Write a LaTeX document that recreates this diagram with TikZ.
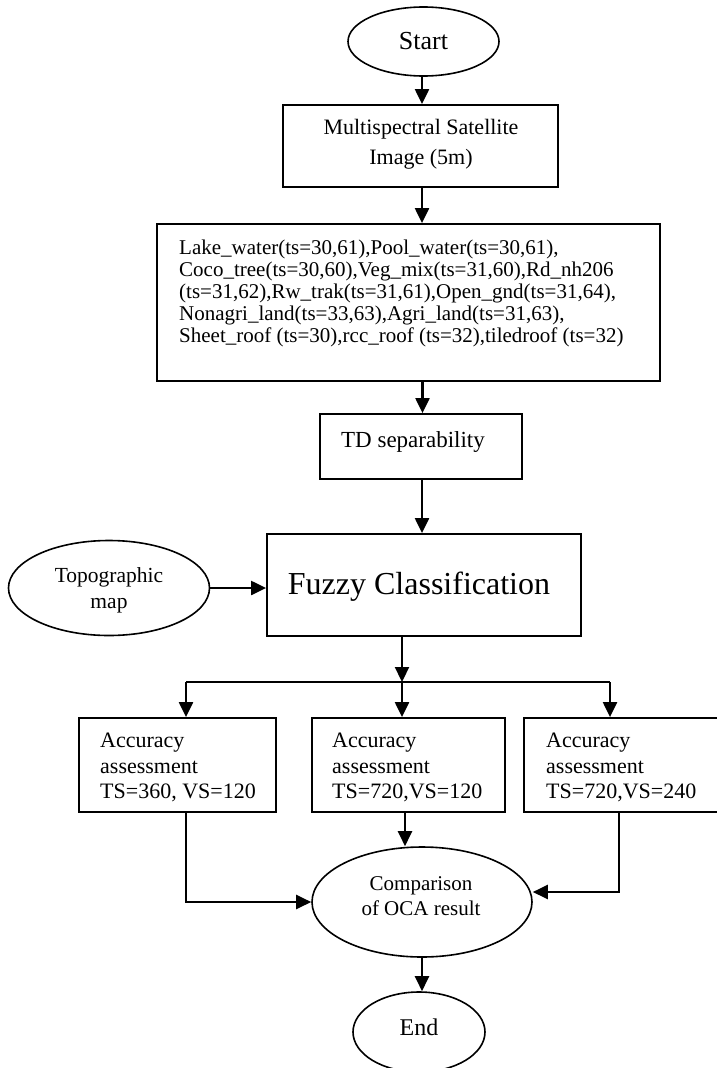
\documentclass[tikz,border=0pt]{standalone}
\usepackage{fontspec}
\setmainfont{Liberation Serif}
\usetikzlibrary{arrows.meta,shapes.geometric}
\begin{document}
\begin{tikzpicture}[x=1pt,y=-1pt,
  box/.style={draw,line width=1.8pt,rectangle,inner sep=0pt},
  oval/.style={draw,line width=1.6pt,ellipse,inner sep=0pt},
  txt/.style={inner sep=0pt},
  arr/.style={line width=2.2pt,-{Triangle[length=15pt,width=14pt]}},
  ln/.style={line width=2.2pt}]
\useasboundingbox (0,0) rectangle (716,1068);
% nodes
\node[oval,minimum width=151pt,minimum height=69pt,font=\fontsize{26}{28}\selectfont] (start) at (423.5,41.5) {Start};
\node[box,minimum width=275pt,minimum height=82pt] (ms) at (420.5,146) {};
\node[txt,align=center,font=\fontsize{22}{30}\selectfont] (mstext) at (421,144) {Multispectral Satellite\\Image (5m)};
\node[box,minimum width=503pt,minimum height=157pt] (big) at (408.5,302.5) {};
\node[txt,anchor=west,align=left,font=\fontsize{21}{22}\selectfont] (bigtext) at (179,293) {Lake\_water(ts=30,61),Pool\_water(ts=30,61),\\
Coco\_tree(ts=30,60),Veg\_mix(ts=31,60),Rd\_nh206\\
(ts=31,62),Rw\_trak(ts=31,61),Open\_gnd(ts=31,64),\\
Nonagri\_land(ts=33,63),Agri\_land(ts=31,63),\\
Sheet\_roof (ts=30),rcc\_roof (ts=32),tiledroof (ts=32)};
\node[box,minimum width=202pt,minimum height=65pt] (td) at (421,446.5) {};
\node[txt,font=\fontsize{23}{25}\selectfont] (tdtext) at (413,442) {TD separability};
\node[box,minimum width=314pt,minimum height=102pt] (fuzzy) at (424,585) {};
\node[txt,font=\fontsize{32}{34}\selectfont] (fuzzytext) at (419,587) {Fuzzy Classification};
\node[oval,minimum width=201pt,minimum height=95pt] (topo) at (109,588) {};
\node[txt,align=center,font=\fontsize{21.5}{26}\selectfont] (topotext) at (109,590) {Topographic\\map};
\node[box,minimum width=197pt,minimum height=94pt] (acc1) at (177.5,765) {};
\node[box,minimum width=193pt,minimum height=94pt] (acc2) at (408.5,765) {};
\node[box,minimum width=198pt,minimum height=94pt] (acc3) at (623,765) {};
\tikzset{acctext/.style={txt,anchor=west,align=left,font=\fontsize{22}{25.5}\selectfont}}
\node[acctext] (acc1text) at (100,767.5) {Accuracy\\assessment\\TS=360, VS=120};
\node[acctext] (acc2text) at (332,767.5) {Accuracy\\assessment\\TS=720,VS=120};
\node[acctext] (acc3text) at (546,767.5) {Accuracy\\assessment\\TS=720,VS=240};
\node[oval,minimum width=220pt,minimum height=110pt] (comp) at (422,902) {};
\node[txt,align=center,font=\fontsize{21}{25}\selectfont] (comptext) at (421,896) {Comparison\\of OCA result};
\node[oval,minimum width=132pt,minimum height=80pt] (end) at (419,1032) {};
\node[txt,font=\fontsize{24}{26}\selectfont] (endtext) at (419,1027) {End};
% coordinates
\coordinate (br) at (402,682);
\coordinate (bl) at (186,682);
\coordinate (brr) at (610,682);
\coordinate (r3) at (619,892);
% connectors
\draw[arr] (start.south -| ms.north) ++(1.5,0) coordinate (s1) -- (s1 |- ms.north);
\draw[arr] (ms.south) ++(1.5,0) coordinate (s2) -- (s2 |- big.north);
\draw[arr] (td.north |- big.south) ++(1.5,0) coordinate (s3) -- (s3 |- td.north);
\draw[arr] (td.south) ++(1,0) coordinate (s4) -- (s4 |- fuzzy.north);
\draw[arr] (topo.east) -- (fuzzy.west |- topo.east);
\draw[arr] (br |- fuzzy.south) -- (br);
\draw[ln] (bl) -- (brr);
\draw[arr] (bl) -- (bl |- acc1.north);
\draw[arr] (br) -- (br |- acc2.north);
\draw[arr] (brr) -- (brr |- acc3.north);
\draw[arr] (bl |- acc1.south) |- (comp.west);
\draw[arr] (acc2.south) ++(-3.5,0) coordinate (s5) -- (s5 |- comp.north);
\draw[arr] (r3 |- acc3.south) -- (r3) -- (comp.east |- r3);
\draw[arr] (comp.south) -- (comp.south |- end.north);
\end{tikzpicture}
\end{document}
